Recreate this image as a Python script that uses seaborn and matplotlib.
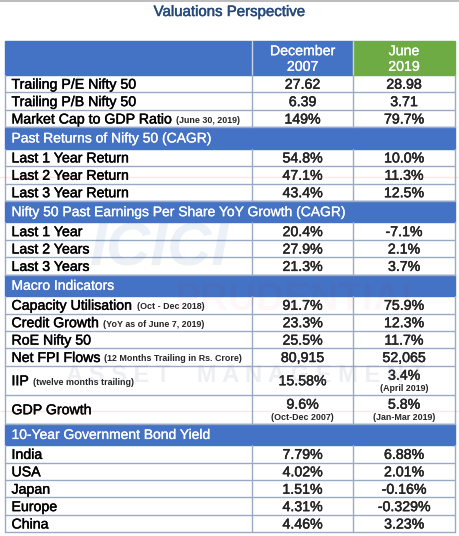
import matplotlib
matplotlib.use("Agg")
import matplotlib.pyplot as plt
import matplotlib.patheffects as pe
import seaborn as sns
from matplotlib.patches import Rectangle

# ---- table content -------------------------------------------------------
title = "Valuations Perspective"
col_headers = ["December\n2007", "June\n2019"]

valuation_labels = ["Trailing P/E Nifty 50", "Trailing P/B Nifty 50", "Market Cap to GDP Ratio"]
valuation_notes = ["", "", "(June 30, 2019)"]
valuation_dec07 = ["27.62", "6.39", "149%"]
valuation_jun19 = ["28.98", "3.71", "79.7%"]

returns_title = "Past Returns of Nifty 50 (CAGR)"
returns_labels = ["Last 1 Year Return", "Last 2 Year Return", "Last 3 Year Return"]
returns_dec07 = ["54.8%", "47.1%", "43.4%"]
returns_jun19 = ["10.0%", "11.3%", "12.5%"]

eps_title = "Nifty 50 Past Earnings Per Share YoY Growth (CAGR)"
eps_labels = ["Last 1 Year", "Last 2 Years", "Last 3 Years"]
eps_dec07 = ["20.4%", "27.9%", "21.3%"]
eps_jun19 = ["-7.1%", "2.1%", "3.7%"]

macro_title = "Macro Indicators"
macro_labels = ["Capacity Utilisation", "Credit Growth", "RoE Nifty 50",
                "Net FPI Flows", "IIP", "GDP Growth"]
macro_notes = ["(Oct - Dec 2018)", "(YoY as of June 7, 2019)", "",
               "(12 Months Trailing in Rs. Crore)", "(twelve months trailing)", ""]
macro_dec07 = ["91.7%", "23.3%", "25.5%", "80,915", "15.58%", "9.6%"]
macro_dec07_sub = ["", "", "", "", "", "(Oct-Dec 2007)"]
macro_jun19 = ["75.9%", "12.3%", "11.7%", "52,065", "3.4%", "5.8%"]
macro_jun19_sub = ["", "", "", "", "(April 2019)", "(Jan-Mar 2019)"]

bond_title = "10-Year Government Bond Yield"
bond_labels = ["India", "USA", "Japan", "Europe", "China"]
bond_dec07 = ["7.79%", "4.02%", "1.51%", "4.31%", "4.46%"]
bond_jun19 = ["6.88%", "2.01%", "-0.16%", "-0.329%", "3.23%"]

# ---- styling -------------------------------------------------------------
sns.set_style("white")
plt.rcParams["font.family"] = ["Liberation Sans", "DejaVu Sans"]

BLUE = "#4472C4"
GREEN = "#6EAB45"
LINE = "#9AAAC6"
TITLE_C = "#264A7A"
HEAVY = [pe.withStroke(linewidth=0.3, foreground="black")]
HEAVY_W = [pe.withStroke(linewidth=0.2, foreground="white")]

W, H = 459, 536
x0, x1, x2, x3 = 4.5, 252, 353, 455
HEADER_H, ROW_H, SEC_H, TALL_H = 34, 17.4, 21.5, 29
NOTE_FS = 6.4

fig = plt.figure(figsize=(W / 100, H / 100), dpi=100)
ax = fig.add_axes([0, 0, 1, 1])
ax.set_xlim(0, W)
ax.set_ylim(H, 0)
ax.axis("off")

# thin grey rule at the very top and the title
ax.plot([0, W], [1, 1], color="#B0B0B0", lw=1.2)
ax.text(W / 2, 12, title, ha="center", va="center", fontsize=10.8, color=TITLE_C,
        path_effects=[pe.withStroke(linewidth=0.35, foreground=TITLE_C)])

# faint watermark
ax.text(160, 250, "ICICI", ha="center", va="center", fontsize=44, fontweight="bold",
        fontstyle="italic", color="#2F5FB0", alpha=0.09, zorder=5)
ax.text(300, 300, "PRUDENTIAL", ha="center", va="center", fontsize=28, fontweight="bold",
        color="#C8202A", alpha=0.035, zorder=5)
ax.text(245, 376, "A S S E T    M A N A G E M E N T", ha="center", va="center",
        fontsize=17, fontweight="bold", color="#8A96A8", alpha=0.15, zorder=5)
for yy in (177, 411):
    ax.plot([0, W], [yy, yy], color="#E05050", lw=1.0, alpha=0.12, zorder=5)

# ---- header --------------------------------------------------------------
y = 41
ax.add_patch(Rectangle((x0, y), x2 - x0, HEADER_H, color=BLUE, zorder=1))
ax.add_patch(Rectangle((x2, y), x3 - x2, HEADER_H, color=GREEN, zorder=1))
ax.plot([x1, x1], [y, y + HEADER_H], color="#C9D3E6", lw=1.0, zorder=2)
ax.plot([x2, x2], [y, y + HEADER_H], color="#C9D3E6", lw=1.0, zorder=2)
for cx, txt in zip([(x1 + x2) / 2, (x2 + x3) / 2], col_headers):
    ax.text(cx, y + HEADER_H / 2 + 1, txt, ha="center", va="center", fontsize=10.2,
            color="white", linespacing=1.15, zorder=3, path_effects=HEAVY_W)
y += HEADER_H


def section(y, txt):
    ax.add_patch(Rectangle((x0, y), x3 - x0, SEC_H, color=BLUE, zorder=1))
    ax.text(x0 + 7, y + SEC_H / 2 + 0.5, txt, ha="left", va="center", fontsize=10,
            color="white", zorder=3, path_effects=HEAVY_W)
    return y + SEC_H


def body_row(y, label, note, v1, v2, sub1="", sub2="", h=ROW_H):
    # borders
    ax.plot([x0, x3], [y + h, y + h], color=LINE, lw=1.0, zorder=2)
    for xx in (x0, x1, x2, x3):
        ax.plot([xx, xx], [y, y + h], color=LINE, lw=1.0, zorder=2)
    lab = ax.text(x0 + 7, y + h / 2 + 1, label, ha="left", va="center", fontsize=10.2,
                  color="black", zorder=3, path_effects=HEAVY)
    if note:
        ax.annotate(note, xy=(1, 0.12), xycoords=lab, xytext=(3, 0),
                    textcoords="offset points", ha="left", va="bottom",
                    fontsize=NOTE_FS, fontweight="bold", zorder=3)
    for cx, v, s in (((x1 + x2) / 2, v1, sub1), ((x2 + x3) / 2, v2, sub2)):
        if s:
            ax.text(cx, y + 10, v, ha="center", va="center", fontsize=10.2, zorder=3,
                    path_effects=HEAVY)
            ax.text(cx, y + 22.5, s, ha="center", va="center", fontsize=NOTE_FS,
                    fontweight="bold", zorder=3)
        else:
            ax.text(cx, y + h / 2 + 1, v, ha="center", va="center", fontsize=10.2,
                    zorder=3, path_effects=HEAVY)
    return y + h


for lab, note, a, b in zip(valuation_labels, valuation_notes, valuation_dec07, valuation_jun19):
    y = body_row(y, lab, note, a, b)

y = section(y, returns_title)
for lab, a, b in zip(returns_labels, returns_dec07, returns_jun19):
    y = body_row(y, lab, "", a, b)

y = section(y, eps_title)
for lab, a, b in zip(eps_labels, eps_dec07, eps_jun19):
    y = body_row(y, lab, "", a, b)

y = section(y, macro_title)
for lab, note, a, sa, b, sb in zip(macro_labels, macro_notes, macro_dec07,
                                   macro_dec07_sub, macro_jun19, macro_jun19_sub):
    tall = lab in ("IIP", "GDP Growth")
    y = body_row(y, lab, note, a, b, sa, sb, h=TALL_H if tall else ROW_H)

y = section(y, bond_title)
for lab, a, b in zip(bond_labels, bond_dec07, bond_jun19):
    y = body_row(y, lab, "", a, b)

fig.savefig("out.png", dpi=100)
